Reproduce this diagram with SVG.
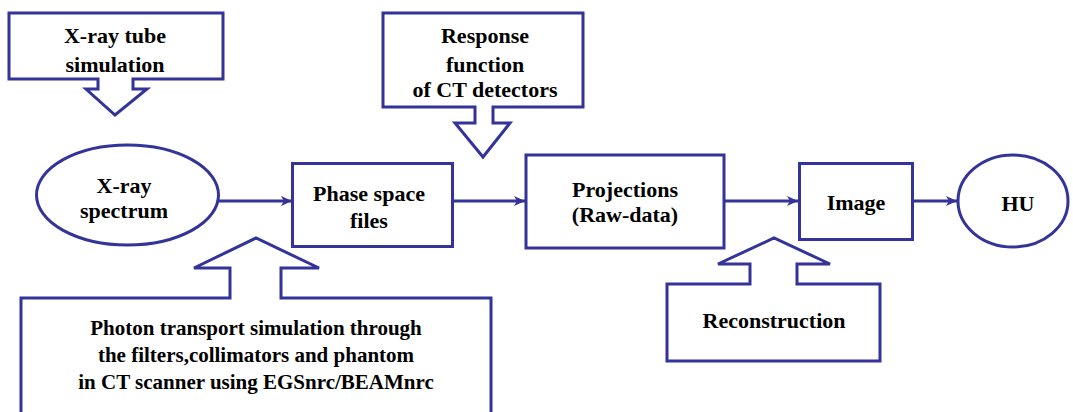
<svg xmlns="http://www.w3.org/2000/svg" width="1073" height="412" viewBox="0 0 1073 412" font-family="Liberation Serif, DejaVu Serif, serif">
<style>
.s{fill:#ffffff;stroke:#333399;stroke-width:3}
.c{fill:none;stroke:#333399;stroke-width:3}
text{font-weight:bold;font-size:22px;fill:#000;text-anchor:middle}
.sm{font-size:21px}
</style>
<defs>
<marker id="ah" markerUnits="userSpaceOnUse" markerWidth="12" markerHeight="10" refX="11" refY="5" orient="auto">
<path d="M0,0 L11,5 L0,10 L3,5 Z" fill="#333399"/>
</marker>
</defs>
<rect width="1073" height="412" fill="#ffffff"/>
<g id="connectors">
<line class="c" x1="219" y1="201" x2="292" y2="201" marker-end="url(#ah)"/>
<line class="c" x1="452" y1="201" x2="525" y2="201" marker-end="url(#ah)"/>
<line class="c" x1="724" y1="201" x2="798" y2="201" marker-end="url(#ah)"/>
<line class="c" x1="912" y1="201" x2="957" y2="201" marker-end="url(#ah)"/>
</g>
<g id="xray-tube">
<path class="s" d="M9,13 H223 V79 H133 V89 H147 L115,115 L86,89 H98 V79 H9 Z"/>
<text x="115" y="43">X-ray tube</text>
<text x="115" y="72">simulation</text>
</g>
<g id="response">
<path class="s" d="M383,13 H583 V107 H493 V123 H510 L483,157 L455,123 H475 V107 H383 Z"/>
<text x="485" y="43">Response</text>
<text x="485" y="72">function</text>
<text x="485" y="97">of CT detectors</text>
</g>
<g id="xray-spectrum">
<ellipse class="s" cx="127.5" cy="195" rx="91" ry="50"/>
<text x="124" y="193">X-ray</text>
<text x="124" y="218">spectrum</text>
</g>
<g id="phase-space">
<rect class="s" x="292.5" y="163.5" width="160" height="83"/>
<text x="369" y="201">Phase space</text>
<text x="369" y="228">files</text>
</g>
<g id="projections">
<rect class="s" x="526" y="155" width="198" height="93"/>
<text x="625" y="197">Projections</text>
<text x="625" y="222">(Raw-data)</text>
</g>
<g id="image">
<rect class="s" x="799.5" y="163.5" width="113" height="76"/>
<text x="856" y="210">Image</text>
</g>
<g id="hu">
<ellipse class="s" cx="1013" cy="201" rx="55" ry="46"/>
<text x="1018" y="211">HU</text>
</g>
<g id="photon-transport">
<path class="s" d="M21,416 V298 H230 V268 H194 L256,238 L319,268 H281 V298 H491 V416"/>
<text class="sm" x="256" y="335">Photon transport simulation through</text>
<text class="sm" x="256" y="362">the filters,collimators and phantom</text>
<text class="sm" x="256" y="389">in CT scanner using EGSnrc/BEAMnrc</text>
</g>
<g id="reconstruction">
<path class="s" d="M667,361 V284 H750 V264 H718 L774,238 L830,264 H797 V284 H880 V361 Z"/>
<text x="774" y="328">Reconstruction</text>
</g>
</svg>
